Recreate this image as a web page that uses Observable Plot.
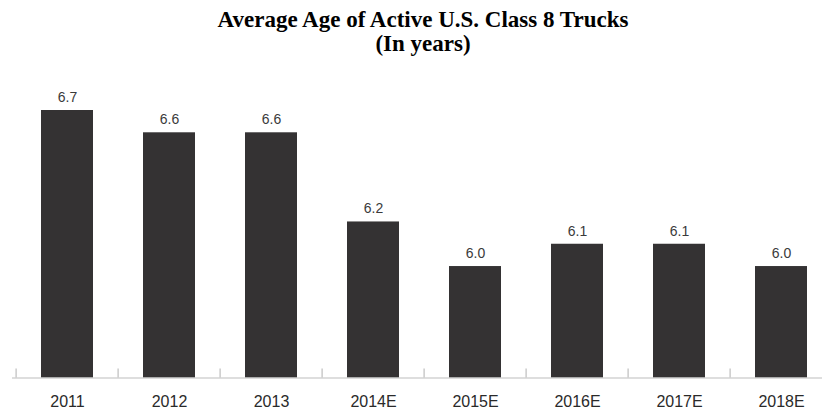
<!DOCTYPE html>
<html>
<head>
<meta charset="utf-8">
<script src="https://cdn.jsdelivr.net/npm/d3@7"></script>
<script src="https://cdn.jsdelivr.net/npm/@observablehq/plot@0.6"></script>
<style>
  html, body { margin: 0; padding: 0; background: #ffffff; }
  #title {
    width: 822px; height: 60px; box-sizing: border-box;
    padding-top: 8px; padding-left: 24px;
    text-align: center;
    font-family: "Liberation Serif", "Times New Roman", serif;
    font-weight: bold; font-size: 23px; line-height: 24px;
    color: #000;
  }
  #chart svg { display: block; }
</style>
</head>
<body>
<div id="title">Average Age of Active U.S. Class 8 Trucks<br>(In years)</div>
<div id="chart"></div>
<script>
const years = ["2011", "2012", "2013", "2014E", "2015E", "2016E", "2017E", "2018E"];
const ages = [6.7, 6.6, 6.6, 6.2, 6.0, 6.1, 6.1, 6.0];
const yBase = 5.5;
const yTop = 6.7;

const data = years.map((year, i) => ({year, value: ages[i]}));

const W = 822, H = 351;
const x0 = 12.3, step = 102.8;

const chart = Plot.plot({
  width: W,
  height: H,
  marginTop: 50,
  marginBottom: 33.5,
  marginLeft: 12,
  marginRight: 0,
  style: {fontFamily: "'Liberation Sans', Arial, sans-serif", background: "#ffffff"},
  x: {domain: years, range: [x0, x0 + step * years.length], paddingInner: 0.494, paddingOuter: 0.247, align: 0.5, label: null},
  y: {domain: [yBase, yTop], axis: null},
  marks: [
    Plot.barY(data, {x: "year", y1: yBase, y2: "value", fill: "#343233"}),
    Plot.ruleY([yBase], {stroke: "#bdbdbd", strokeWidth: 1.2}),
    Plot.axisX({tickSize: -9, text: null, dx: -step / 2, stroke: "#bdbdbd", strokeWidth: 1.2}),
    Plot.axisX({tickSize: 0, tickPadding: 18, fontSize: 16, fill: "#2a2a2a", label: null}),
    Plot.text(data, {x: "year", y: "value", text: d => d.value.toFixed(1), dy: -13, fontSize: 14, fill: "#3a3a3a"})
  ]
});
document.getElementById("chart").appendChild(chart);
</script>
</body>
</html>
